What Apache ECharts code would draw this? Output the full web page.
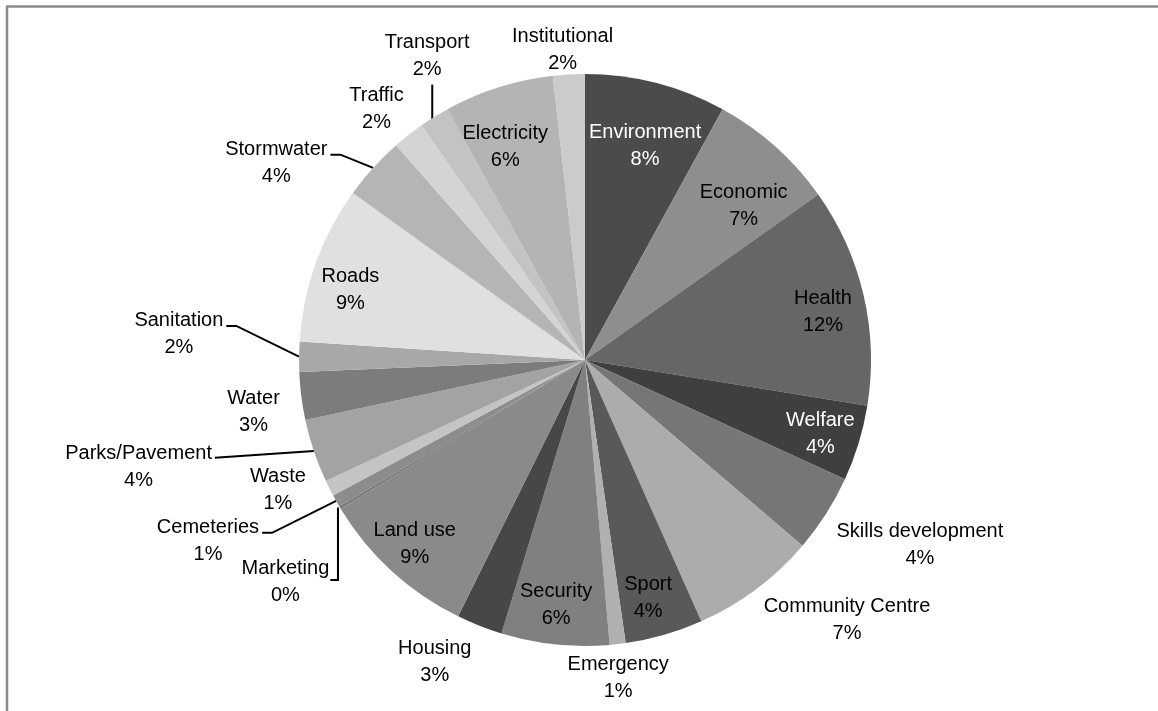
<!DOCTYPE html>
<html>
<head>
<meta charset="utf-8">
<script src="https://cdn.jsdelivr.net/npm/echarts@6/dist/echarts.min.js"></script>
<style>
  html, body { margin: 0; padding: 0; background: #ffffff; }
  #chart { width: 1158px; height: 711px; }
</style>
</head>
<body>
<div id="chart"></div>
<script>
// ---- Data (percent of total) ----
const categories = [
  'Environment', 'Economic', 'Health', 'Welfare', 'Skills development',
  'Community Centre', 'Sport', 'Emergency', 'Security', 'Housing',
  'Land use', 'Marketing', 'Cemeteries', 'Waste', 'Parks/Pavement',
  'Water', 'Sanitation', 'Roads', 'Stormwater', 'Traffic',
  'Transport', 'Electricity', 'Institutional'
];
const values = [
  8.0, 7.2, 12.4, 4.3, 4.4,
  7.1, 4.4, 0.9, 6.1, 2.6,
  9.0, 0.15, 0.7, 0.9, 3.6,
  2.7, 1.7, 8.9, 3.6, 1.8,
  1.7, 6.2, 1.8
];

// ---- Styles (kept apart from the data) ----
const sliceColors = [
  '#4b4b4b', '#8e8e8e', '#666666', '#3f3f3f', '#767676',
  '#acacac', '#595959', '#b0b0b0', '#808080', '#474747',
  '#8a8a8a', '#7a7a7a', '#8c8c8c', '#c4c4c4', '#a3a3a3',
  '#7c7c7c', '#a8a8a8', '#e0e0e0', '#b5b5b5', '#d4d4d4',
  '#c3c3c3', '#b4b4b4', '#cbcbcb'
];
const labelColors = [
  '#ffffff', '#000000', '#000000', '#ffffff', '#000000',
  '#000000', '#000000', '#000000', '#000000', '#000000',
  '#000000', '#000000', '#000000', '#000000', '#000000',
  '#000000', '#000000', '#000000', '#000000', '#000000',
  '#000000', '#000000', '#000000'
];
// label placement: [radius factor, angle offset (deg) from slice middle, leader kind]
const labelPlacement = [
  [0.777, 1.3, 'none'], [0.774, 4.1, 'none'], [0.849, 1.6, 'none'], [0.863, 0.6, 'none'], [1.337, -3.7, 'none'],
  [1.290, -8.5, 'none'], [0.860, 1.2, 'none'], [1.117, 0.6, 'none'], [0.863, 0.7, 'none'], [1.179, 4.8, 'none'],
  [0.876, 0.3, 'none'], [1.304, -5.5, 'down'], [1.462, 3.9, 'side'], [1.166, 3.7, 'none'], [1.605, 5.1, 'straight'],
  [1.173, -1.6, 'none'], [1.423, 3.0, 'side'], [0.856, -3.1, 'none'], [1.281, -9.6, 'side'], [1.141, -1.6, 'none'],
  [1.199, 4.4, 'up'], [0.796, -2.9, 'none'], [1.086, -0.9, 'none']
];

const CX = 585, CY = 360, R = 286;
const total = values.reduce((a, b) => a + b, 0);
function midAngle(i) {
  let s = 0;
  for (let j = 0; j < i; j++) s += values[j];
  return (s + values[i] / 2) / total * 360;
}

const chart = echarts.init(document.getElementById('chart'), null, { renderer: 'canvas' });

const data = categories.map((name, i) => ({
  name: name,
  value: values[i],
  itemStyle: { color: sliceColors[i] },
  label: { color: labelColors[i] },
  labelLine: { show: labelPlacement[i][2] !== 'none' }
}));

chart.setOption({
  animation: false,
  backgroundColor: '#ffffff',
  graphic: [
    { type: 'line', silent: true, shape: { x1: 6, y1: 6.5, x2: 1158, y2: 6.5 }, style: { stroke: '#8a8a8a', lineWidth: 2.5 } },
    { type: 'line', silent: true, shape: { x1: 7, y1: 6, x2: 7, y2: 711 }, style: { stroke: '#8a8a8a', lineWidth: 2.5 } }
  ],
  series: [{
    type: 'pie',
    center: [CX, CY],
    radius: R,
    startAngle: 90,
    clockwise: true,
    avoidLabelOverlap: false,
    minShowLabelAngle: 0,
    itemStyle: { borderWidth: 0 },
    emphasis: { disabled: true },
    label: {
      show: true,
      position: 'outside',
      fontFamily: '"Liberation Sans", Arial, sans-serif',
      fontSize: 20,
      lineHeight: 27,
      align: 'center',
      formatter: p => p.name + '\n' + Math.round(p.value / total * 100) + '%'
    },
    labelLine: {
      show: true,
      lineStyle: { color: '#000000', width: 2 }
    },
    labelLayout: function (params) {
      const i = params.dataIndex;
      const pl = labelPlacement[i];
      const mid = midAngle(i);
      const a = (mid + pl[1]) * Math.PI / 180;
      const x = CX + pl[0] * R * Math.sin(a);
      const y = CY - pl[0] * R * Math.cos(a);
      const w = params.labelRect.width, h = params.labelRect.height;
      const am = mid * Math.PI / 180;
      const rx = CX + R * Math.sin(am), ry = CY - R * Math.cos(am);
      const out = { x: x, y: y, align: 'center', verticalAlign: 'middle' };
      const kind = pl[2];
      if (kind === 'side') {
        const ex = x + w / 2 + 3, ey = y - 8;
        out.labelLinePoints = [[rx, ry], [ex + 10, ey], [ex, ey]];
      } else if (kind === 'straight') {
        out.labelLinePoints = [[rx, ry], [x + w / 2 + 3, y - 9]];
      } else if (kind === 'down') {
        out.labelLinePoints = [[rx - 2, ry], [rx - 2, y - 2], [x + w / 2 + 1, y - 2]];
      } else if (kind === 'up') {
        out.labelLinePoints = [[rx - 2, ry + 4], [rx - 2, y + h / 2 + 2]];
      }
      return out;
    },
    data: data
  }]
});
</script>
</body>
</html>
